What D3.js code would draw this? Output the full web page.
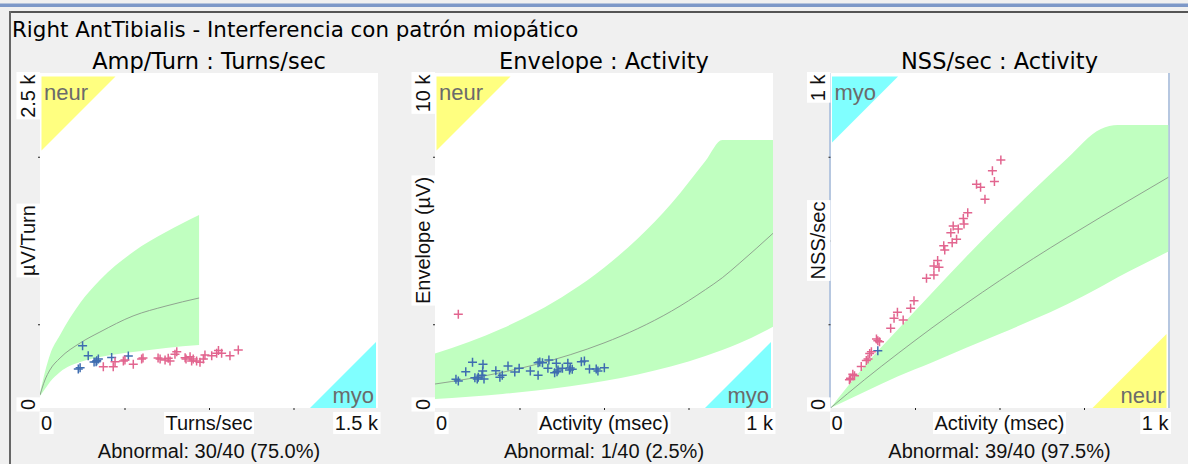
<!DOCTYPE html>
<html>
<head>
<meta charset="utf-8">
<script src="https://cdn.jsdelivr.net/npm/d3@7"></script>
<style>
    html, body { margin: 0; padding: 0; background: #f0f0f0; }
    svg { display: block; }
    .title { font-family: "DejaVu Sans", sans-serif; font-size: 21.4px; fill: #000; }
    .sub { font-family: "DejaVu Sans", sans-serif; font-size: 22.5px; fill: #000; }
    .lbl { font-family: "Liberation Sans", Arial, sans-serif; font-size: 20px; fill: #111; }
    .corner { font-family: "Liberation Sans", Arial, sans-serif; font-size: 22px; fill: #6b6b6b; }
</style>
</head>
<body>
<svg id="chart" width="1188" height="464"></svg>
<script>
const chartTitle = 'Right AntTibialis - Interferencia con patrón miopático';

// --- Amp/Turn : Turns/sec ---
const ampTitle = 'Amp/Turn : Turns/sec';
const ampXMax = 1500;
const ampYMax = 2500;
const ampXLabels = ['0', 'Turns/sec', '1.5 k'];
const ampYLabels = ['0', 'µV/Turn', '2.5 k'];
const ampNote = 'Abnormal: 30/40 (75.0%)';
const ampCorners = ['neur', 'myo'];
const ampBandX = [0, 22, 44, 89, 178, 266, 413, 559, 706];
const ampBandHigh = [112, 269, 396, 545, 784, 955, 1164, 1313, 1440];
const ampBandMid = [97, 209, 284, 373, 485, 567, 687, 761, 821];
const ampBandLow = [90, 142, 194, 269, 343, 381, 418, 448, 470];
const ampNormal = [[189, 465], [214, 390], [178, 301], [170, 291], [252, 353], [259, 366], [249, 346], [318, 377], [392, 388], [240, 343]];
const ampAbnormal = [[281, 308], [325, 308], [333, 346], [370, 351], [377, 358], [414, 326], [451, 366], [457, 373], [533, 366], [555, 358],
    [569, 371], [577, 351], [599, 401], [607, 420], [644, 375], [666, 383], [673, 351], [680, 366], [695, 351], [710, 341],
    [725, 366], [732, 396], [762, 390], [784, 408], [792, 429], [806, 408], [843, 390], [880, 433], [648, 366], [524, 373]];

// --- Envelope : Activity ---
const envTitle = 'Envelope : Activity';
const envXMax = 1000;
const envYMax = 10000;
const envXLabels = ['0', 'Activity (msec)', '1 k'];
const envYLabels = ['0', 'Envelope (µV)', '10 k'];
const envNote = 'Abnormal: 1/40 (2.5%)';
const envCorners = ['neur', 'myo'];
const envBandX = [0, 100, 200, 300, 400, 500, 600, 700, 800, 850, 900, 1000];
const envBandHigh = [1630, 1970, 2380, 2870, 3470, 4190, 5060, 6110, 7370, 8000, 8000, 8000];
const envBandMid = [716, 874, 1067, 1303, 1590, 1942, 2370, 2894, 3533, 3888, 4313, 5215];
const envBandLow = [269, 335, 417, 519, 646, 804, 1001, 1246, 1551, 1731, 1930, 2427];
const envNormal = [[62, 857], [69, 806], [91, 1084], [111, 1364], [118, 904], [125, 866], [141, 1104], [142, 1304], [145, 866], [139, 976],
    [180, 1113], [192, 916], [199, 976], [216, 1254], [236, 1075], [249, 1185], [282, 1104], [305, 976], [305, 1352], [318, 1352],
    [337, 1433], [334, 1185], [354, 1054], [359, 1334], [364, 1134], [377, 1185], [393, 1334], [398, 1134], [406, 1155], [433, 1382],
    [442, 1403], [457, 1164], [477, 1164], [482, 1104], [501, 1203], [310, 1373], [128, 916], [361, 1084], [400, 1194]];
const envAbnormal = [[69, 2797]];

// --- NSS/sec : Activity ---
const nssTitle = 'NSS/sec : Activity';
const nssXMax = 1000;
const nssYMax = 1000;
const nssXLabels = ['0', 'Activity (msec)', '1 k'];
const nssYLabels = ['0', 'NSS/sec', '1 k'];
const nssNote = 'Abnormal: 39/40 (97.5%)';
const nssCorners = ['myo', 'neur'];
const nssBandX = [0, 100, 200, 300, 400, 500, 600, 700, 800, 850, 1000];
const nssBandHigh = [0, 125, 235, 343, 450, 552, 650, 745, 833, 845, 845];
const nssBandMid = [0, 84, 163, 239, 311, 380, 446, 509, 570, 600, 689];
const nssBandLow = [0, 48, 95, 136, 179, 221, 264, 310, 362, 390, 467];
const nssNormal = [[140, 171]];
const nssAbnormal = [[59, 89], [66, 101], [71, 96], [91, 124], [111, 146], [116, 163], [121, 168], [140, 201], [145, 198], [178, 238],
    [188, 268], [198, 286], [215, 263], [237, 298], [247, 320], [284, 387], [306, 397], [306, 424], [317, 440], [321, 420],
    [335, 484], [338, 472], [356, 523], [360, 493], [363, 543], [373, 504], [378, 534], [393, 566], [395, 549], [406, 583],
    [432, 668], [444, 659], [457, 623], [479, 708], [485, 676], [504, 740], [136, 206], [106, 142], [56, 84]];

document.addEventListener('DOMContentLoaded', () => {

    const panels = [
        { title: ampTitle, xMax: ampXMax, yMax: ampYMax, xLabels: ampXLabels, yLabels: ampYLabels, note: ampNote, corners: ampCorners,
          bandX: ampBandX, bandHigh: ampBandHigh, bandMid: ampBandMid, bandLow: ampBandLow, normal: ampNormal, abnormal: ampAbnormal },
        { title: envTitle, xMax: envXMax, yMax: envYMax, xLabels: envXLabels, yLabels: envYLabels, note: envNote, corners: envCorners,
          bandX: envBandX, bandHigh: envBandHigh, bandMid: envBandMid, bandLow: envBandLow, normal: envNormal, abnormal: envAbnormal },
        { title: nssTitle, xMax: nssXMax, yMax: nssYMax, xLabels: nssXLabels, yLabels: nssYLabels, note: nssNote, corners: nssCorners,
          bandX: nssBandX, bandHigh: nssBandHigh, bandMid: nssBandMid, bandLow: nssBandLow, normal: nssNormal, abnormal: nssAbnormal, bordered: true }
    ];

    const lefts = [40, 435, 830.5];
    const W = 338, H = 335, TOP = 73;
    const cornerColor = { neur: '#ffff80', myo: '#80ffff' };
    const cornerSize = { neur: 74, myo: 66 };

    const svg = d3.select('#chart');

    // window frame
    svg.append('rect').attr('width', 1188).attr('height', 464).attr('fill', '#f0f0f0');
    svg.append('rect').attr('x', 0).attr('y', 3.5).attr('width', 1188).attr('height', 3.5).attr('fill', '#7d98c8');
    svg.append('rect').attr('x', 10).attr('y', 11).attr('width', 1178).attr('height', 2).attr('fill', '#555');
    svg.append('rect').attr('x', 9).attr('y', 11).attr('width', 2).attr('height', 453).attr('fill', '#666');

    svg.append('text').attr('class', 'title').attr('x', 12).attr('y', 36.5).text(chartTitle);

    // text with a white box behind it
    const boxedLabel = (parent, tx, ty, rot, anchor, text, extra = 0) => {
        const lg = parent.append('g').attr('transform', `translate(${tx},${ty}) rotate(${rot})`);
        const rect = lg.append('rect').attr('fill', '#fff');
        const t = lg.append('text').attr('class', 'lbl').attr('text-anchor', anchor).text(text);
        const bb = t.node().getBBox();
        rect.attr('x', bb.x - 1.5).attr('y', bb.y).attr('width', bb.width + 3).attr('height', bb.height + extra);
    };

    const cross = 'M-4.5,0H4.5M0,-4.5V4.5';

    panels.forEach((p, i) => {
        const x0 = lefts[i], x1 = x0 + W, y0 = TOP, y1 = TOP + H;
        const x = d3.scaleLinear().domain([0, p.xMax]).range([x0, x1]);
        const y = d3.scaleLinear().domain([0, p.yMax]).range([y1, y0]);
        const g = svg.append('g');

        g.append('text').attr('class', 'sub').attr('x', (x0 + x1) / 2).attr('y', 68.5)
            .attr('text-anchor', 'middle').text(p.title);

        g.append('rect').attr('x', x0).attr('y', y0).attr('width', W).attr('height', H).attr('fill', '#fff');
        if (p.bordered) {
            g.append('rect').attr('x', x0 - 1.5).attr('y', y0).attr('width', 2).attr('height', H).attr('fill', '#b6c7e0');
            g.append('rect').attr('x', x1 - 0.5).attr('y', y0).attr('width', 2).attr('height', H).attr('fill', '#b6c7e0');
        }

        g.append('clipPath').attr('id', 'clip' + i)
            .append('rect').attr('x', x0).attr('y', y0).attr('width', W).attr('height', H);
        const plot = g.append('g').attr('clip-path', `url(#clip${i})`);

        // corner triangles
        const [tl, br] = p.corners;
        const s1 = cornerSize[tl], s2 = cornerSize[br];
        plot.append('path')
            .attr('d', `M${x0 + 1.5},${y0 + 3.5}h${s1}L${x0 + 1.5},${y0 + 3.5 + s1}Z`)
            .attr('fill', cornerColor[tl]);
        plot.append('path')
            .attr('d', `M${x1 - 2},${y1}h${-s2}L${x1 - 2},${y1 - s2}Z`)
            .attr('fill', cornerColor[br]);
        plot.append('text').attr('class', 'corner').attr('x', x0 + 4).attr('y', y0 + 26.5).text(tl);
        plot.append('text').attr('class', 'corner').attr('x', x1 - 4).attr('y', y1 - 5)
            .attr('text-anchor', 'end').text(br);

        // normal band
        const band = p.bandX.map((v, k) => ({ x: v, lo: p.bandLow[k], mid: p.bandMid[k], hi: p.bandHigh[k] }));
        plot.append('path').datum(band)
            .attr('d', d3.area().x(d => x(d.x)).y0(d => y(d.lo)).y1(d => y(d.hi)).curve(d3.curveMonotoneX))
            .attr('fill', '#c0ffc0');
        plot.append('path').datum(band)
            .attr('d', d3.line().x(d => x(d.x)).y(d => y(d.mid)).curve(d3.curveMonotoneX))
            .attr('fill', 'none').attr('stroke', '#8a9a8a').attr('stroke-width', 0.9);

        // measurements
        plot.selectAll('.ok').data(p.normal).enter().append('path')
            .attr('d', cross).attr('transform', d => `translate(${x(d[0])},${y(d[1])})`)
            .attr('stroke', '#3f6db0').attr('stroke-width', 1.5).attr('fill', 'none');
        plot.selectAll('.bad').data(p.abnormal).enter().append('path')
            .attr('d', cross).attr('transform', d => `translate(${x(d[0])},${y(d[1])})`)
            .attr('stroke', '#e2658f').attr('stroke-width', 1.5).attr('fill', 'none');

        // tick marks
        g.append('g').attr('transform', `translate(0,${y1})`)
            .call(d3.axisBottom(x).tickValues([p.xMax / 4, p.xMax / 2, p.xMax * 3 / 4]).tickSize(2).tickFormat(''))
            .call(a => a.select('.domain').remove())
            .selectAll('line').attr('stroke', '#222');
        g.append('g').attr('transform', `translate(${x0},0)`)
            .call(d3.axisLeft(y).tickValues([p.yMax / 4, p.yMax / 2, p.yMax * 3 / 4]).tickSize(2).tickFormat(''))
            .call(a => a.select('.domain').remove())
            .selectAll('line').attr('stroke', '#222');

        // axis labels
        boxedLabel(g, x0 + 1, y1 + 22, 0, 'start', p.xLabels[0]);
        boxedLabel(g, (x0 + x1) / 2, y1 + 22, 0, 'middle', p.xLabels[1]);
        boxedLabel(g, x1, y1 + 22, 0, 'end', p.xLabels[2]);
        boxedLabel(g, x0 - 5.5, y1 + 2, -90, 'start', p.yLabels[0], 1.5);
        boxedLabel(g, x0 - 5.5, (y0 + y1) / 2, -90, 'middle', p.yLabels[1], 1.5);
        boxedLabel(g, x0 - 5.5, y0 + 1.5, -90, 'end', p.yLabels[2], 1.5);

        g.append('text').attr('class', 'lbl').attr('x', (x0 + x1) / 2).attr('y', 458)
            .attr('text-anchor', 'middle').text(p.note);
    });
});
</script>
</body>
</html>
